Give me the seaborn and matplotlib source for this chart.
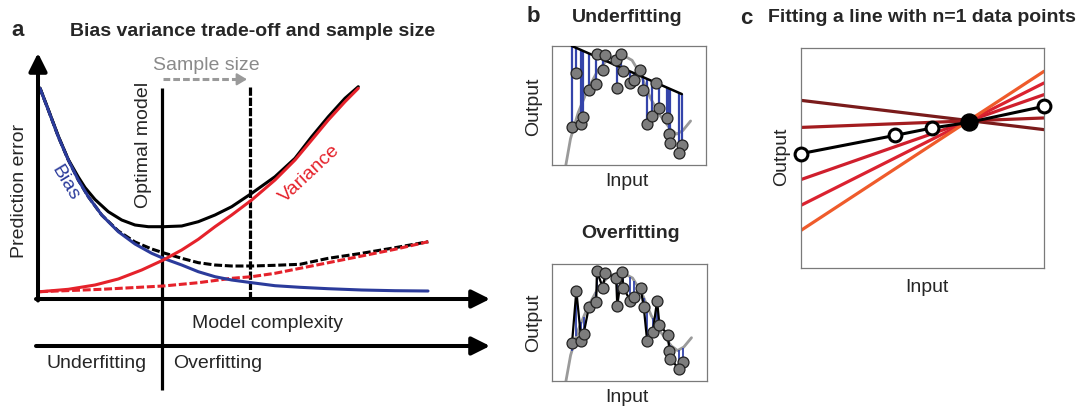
import matplotlib
matplotlib.use('Agg')

import matplotlib.pyplot as plt
import seaborn as sns
import numpy as np

# ---- panel a: bias / variance curves (complexity, error) ----
complexity_bias = [2, 10.3, 20.3, 30.3, 40.3, 50.3, 63.7, 80.3, 97, 113.7, 125.3, 143.7,
                   160.3, 177, 193.7, 213.7, 237, 262, 290, 323.7, 357, 390]
bias_error = [210.7, 189, 162.3, 139, 119, 102.3, 84, 67.3, 55, 45.7, 40.7, 34,
              27.3, 22.3, 19, 16.3, 13.3, 11.7, 10.3, 9, 8.3, 8]

complexity_var = [2, 30.3, 57, 80.3, 103.7, 125.3, 143.7, 160.3, 177, 193.7, 213.7,
                  237, 257, 273.7, 290.3, 307, 320.3]
variance_error = [7.3, 9.7, 14, 20, 29, 39, 49, 59.7, 72.3, 84, 99,
                  119, 139, 159, 179, 197.3, 210.7]

complexity_total = [2, 10.3, 20.3, 30.3, 40.3, 47, 57, 70.3, 83.7, 97, 110.3, 125.3,
                    143.7, 160.3, 177, 193.7, 213.7, 237, 257, 273.7, 290.3, 307, 320.3]
total_error = [211, 189.5, 163, 139.5, 122, 111.5, 99.5, 87.3, 79, 74, 72.3, 72.3,
               73, 77.3, 84, 92.3, 105.7, 122.3, 140.7, 162.3, 182.3, 200.7, 212.3]

complexity_total_big = [2, 10.3, 20.3, 30.3, 40.3, 50.3, 63.7, 80.3, 97, 113.7, 127,
                        143.7, 160.3, 177, 193.7, 213.7, 237, 262, 290.3, 323.7, 357, 390.3]
total_error_big = [210.7, 189, 162.3, 139, 119, 102.3, 84, 68, 57, 50, 45.7,
                   40.7, 36.3, 34, 33, 33, 33.7, 34.7, 40.7, 45.7, 51.3, 57.3]

complexity_var_big = [2, 63.7, 125.3, 160.3, 193.7, 213.7, 237, 262, 290.3, 323.7, 357, 390.3]
variance_error_big = [7.3, 9.7, 13, 16.3, 20.7, 22.3, 25.7, 30.7, 36.3, 43, 49.7, 57.3]

optimal_complexity = 124
optimal_complexity_big = 212.3

# ---- panel b: noisy samples of a curved relation ----
sample_x = [0.129, 0.157, 0.189, 0.204, 0.238, 0.285, 0.290, 0.328, 0.345, 0.421,
            0.414, 0.451, 0.461, 0.506, 0.532, 0.571, 0.592, 0.614, 0.650, 0.678,
            0.693, 0.747, 0.758, 0.764, 0.843, 0.822]
sample_y = [0.321, 0.770, 0.346, 0.404, 0.632, 0.679, 0.936, 0.798, 0.922, 0.645,
            0.881, 0.931, 0.792, 0.687, 0.715, 0.798, 0.632, 0.341, 0.415, 0.687,
            0.479, 0.396, 0.258, 0.188, 0.166, 0.100]
truth_x = [0.09, 0.12, 0.17, 0.23, 0.30, 0.37, 0.45, 0.52, 0.58, 0.64, 0.70, 0.77, 0.81, 0.85, 0.90]
truth_y = [0.00, 0.22, 0.44, 0.63, 0.80, 0.90, 0.93, 0.88, 0.75, 0.56, 0.42, 0.30, 0.26, 0.29, 0.37]
underfit_x = [0.129, 0.843]
underfit_y = [1.0, 0.596]

# ---- panel c: lines through one point ----
line_left = [0.762, 0.639, 0.402, 0.285, 0.171]
line_right = [0.629, 0.682, 0.788, 0.841, 0.894]
line_colors = ['#7a1b1b', '#a31c1f', '#cf1f2d', '#db2230', '#ef5b2b']
point_x = [0.0, 0.388, 0.538, 0.692, 1.0]
point_y = [0.520, 0.603, 0.636, 0.662, 0.735]
fixed_point = 3

BLUE = '#2b3b9b'
RED = '#e5222b'
W, H = 1080, 408

sns.set_theme(style='white')
plt.rcParams['font.family'] = ['Liberation Sans', 'DejaVu Sans']

fig = plt.figure(figsize=(10.8, 4.08), dpi=100)


def box(x0, y0, x1, y1):
    return [x0 / W, 1 - y1 / H, (x1 - x0) / W, (y1 - y0) / H]


def label(x, y, s, size=14, **kw):
    fig.text(x / W, 1 - y / H, s, ha='center', va='center', fontsize=size, **kw)


def line(ax, x, y, **kw):
    sns.lineplot(x=x, y=y, ax=ax, estimator=None, sort=False, legend=False, **kw)


# ================= panel a =================
axa = fig.add_axes([0, 0, 500 / W, 1])
axa.set_xlim(-38, 462)
axa.set_ylim(-109, 299)
axa.axis('off')

arrow = dict(arrowstyle='-|>,head_length=0.5,head_width=0.25', mutation_scale=22,
             lw=2.9, color='black', shrinkA=0, shrinkB=0)
axa.annotate('', xy=(0, 246), xytext=(0, -1.5), arrowprops=arrow)
axa.annotate('', xy=(452, 0), xytext=(-2, 0), arrowprops=arrow)
axa.annotate('', xy=(452, -47), xytext=(-2, -47), arrowprops=arrow)

axa.plot([optimal_complexity] * 2, [211, -91], color='black', lw=2.3, solid_capstyle='butt')
axa.plot([optimal_complexity_big] * 2, [212, 1], color='black', lw=2.3,
         linestyle=(0, (2.6, 0.6)))

dash = (0, (2.6, 0.9))
line(axa, complexity_total_big, total_error_big, color='black', lw=2.2, linestyle=dash)
line(axa, complexity_var_big, variance_error_big, color=RED, lw=2.2, linestyle=dash)
line(axa, complexity_total, total_error, color='black', lw=2.2)
line(axa, complexity_bias, bias_error, color=BLUE, lw=2.2)
line(axa, complexity_var, variance_error, color=RED, lw=2.2)

# sample size arrow
axa.plot([125, 200], [219.7, 219.7], color='#9a9a9a', lw=2.2, linestyle=(0, (2.2, 1.0)))
axa.annotate('', xy=(209, 219.7), xytext=(199, 219.7),
             arrowprops=dict(arrowstyle='-|>,head_length=0.5,head_width=0.3', mutation_scale=12,
                             lw=1.5, color='#9a9a9a', shrinkA=0, shrinkB=0))

label(18, 31, 'a', size=16, fontweight='bold')
label(253, 31, 'Bias variance trade-off and sample size', fontweight='bold')
label(206, 66, 'Sample size', color='#8a8a8a')
label(143, 145, 'Optimal model', rotation=90)
label(19.5, 191, 'Prediction error', rotation=90)
label(65, 183, 'Bias', rotation=-59, color=BLUE)
label(310, 174, 'Variance', rotation=43, color=RED)
label(267, 324, 'Model complexity')
label(97, 364, 'Underfitting')
label(218, 364, 'Overfitting')

# ================= panel b =================
sx = np.array(sample_x)
sy = np.array(sample_y)
order = np.argsort(sx)


def sample_axes(rect):
    ax = fig.add_axes(rect)
    ax.set_xlim(0, 1)
    ax.set_ylim(0, 1)
    ax.set_xticks([])
    ax.set_yticks([])
    for sp in ax.spines.values():
        sp.set_color('#7a7a7a')
        sp.set_linewidth(0.9)
    line(ax, truth_x, truth_y, color='#9a9a9a', lw=2.0)
    return ax


def draw_points(ax):
    sns.scatterplot(x=sx, y=sy, ax=ax, s=62, color='#7d7d7d', edgecolor='#222222',
                    linewidth=0.9, zorder=5, clip_on=False, legend=False)


axu = sample_axes(box(552, 46, 706, 165))
fit_at = np.interp(sx, underfit_x, underfit_y)
axu.vlines(sx, sy, fit_at, color='#3444aa', lw=1.6, zorder=3)
line(axu, underfit_x, underfit_y, color='black', lw=1.8, zorder=4)
draw_points(axu)

axo = sample_axes(box(552, 264, 707, 381))
truth_at = np.interp(sx, truth_x, truth_y)
axo.vlines(sx, sy, truth_at, color='#3444aa', lw=1.3, zorder=3)
line(axo, sx[order], sy[order], color='black', lw=1.6, zorder=4)
draw_points(axo)

label(533, 17, 'b', size=16, fontweight='bold')
label(627, 17, 'Underfitting', fontweight='bold')
label(534, 107, 'Output', rotation=90)
label(627, 182, 'Input')
label(631, 233, 'Overfitting', fontweight='bold')
label(534, 323, 'Output', rotation=90)
label(627, 397, 'Input')

# ================= panel c =================
axc = fig.add_axes(box(801, 48, 1044, 268))
axc.set_xlim(0, 1)
axc.set_ylim(0, 1)
axc.set_xticks([])
axc.set_yticks([])
for sp in axc.spines.values():
    sp.set_color('#7a7a7a')
    sp.set_linewidth(0.9)

for left, right, col in zip(line_left, line_right, line_colors):
    line(axc, [0, 1], [left, right], color=col, lw=2.3)

line(axc, point_x, point_y, color='black', lw=2.2)
open_x = [x for i, x in enumerate(point_x) if i != fixed_point]
open_y = [y for i, y in enumerate(point_y) if i != fixed_point]
sns.scatterplot(x=open_x, y=open_y, ax=axc, s=85, color='white', edgecolor='black',
                linewidth=2.2, zorder=5, clip_on=False, legend=False)
sns.scatterplot(x=[point_x[fixed_point]], y=[point_y[fixed_point]], ax=axc, s=150,
                color='black', edgecolor='black', zorder=6, clip_on=False, legend=False)

label(746, 18, 'c', size=16, fontweight='bold')
label(922, 18, 'Fitting a line with n=1 data points', fontweight='bold')
label(782, 157, 'Output', rotation=90)
label(927, 287, 'Input')

fig.savefig('out.png', dpi=100)
